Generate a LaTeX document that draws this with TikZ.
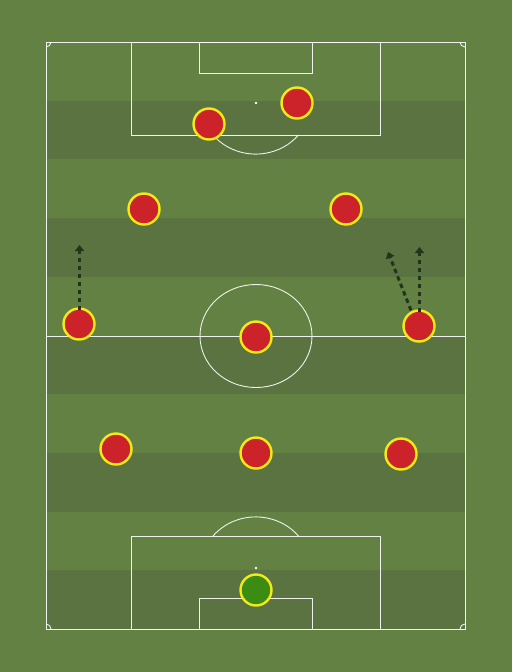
\documentclass[tikz,border=0pt]{standalone}
\usetikzlibrary{arrows.meta}
\definecolor{grasslight}{HTML}{638142}
\definecolor{grassdark}{HTML}{5A7340}
\definecolor{plred}{HTML}{CC2229}
\definecolor{plyellow}{HTML}{F2EC14}
\definecolor{gkgreen}{HTML}{3C8C14}
\definecolor{arrowc}{HTML}{26331C}
\begin{document}
\begin{tikzpicture}[x=1pt,y=-1pt,
  pline/.style={draw=white,line width=0.9pt,opacity=0.9},
  player/.style={circle,draw=plyellow,line width=2.4pt,fill=plred,minimum size=31pt,inner sep=0pt},
  keeper/.style={player,fill=gkgreen},
  run/.style={draw=arrowc,line width=3pt,dash pattern=on 4.5pt off 3.5pt,-{Triangle[length=6pt,width=9pt]}}]
\fill[grasslight] (0,0) rectangle (512,672);
\useasboundingbox (0,0) rectangle (512,672);
% stripes
\foreach \i in {1,3,5,7,9} {
  \fill[grassdark] (46,{42+\i*58.7}) rectangle (465,{42+(\i+1)*58.7});
}
% pitch lines
\draw[pline] (46,42) rectangle (465,629);
\draw[pline] (46,336) -- (465,336);
\draw[pline] (256,336) ellipse[x radius=56,y radius=51.5];
% top
\draw[pline] (131,42) rectangle (380,135);
\draw[pline] (199,42) rectangle (312,73);
\fill[white] (256,103) circle (1.4);
\draw[pline] (213,135) arc[start angle=141,end angle=39,x radius=55,y radius=51.5];
% bottom
\draw[pline] (131,629) rectangle (380,536);
\draw[pline] (199,629) rectangle (312,598);
\fill[white] (256,568) circle (1.4);
\draw[pline] (213,536) arc[start angle=219,end angle=321,x radius=55,y radius=51.5];
% corners
\draw[pline] (51,42) arc[start angle=0,end angle=90,radius=5];
\draw[pline] (460,42) arc[start angle=180,end angle=90,radius=5];
\draw[pline] (51,629) arc[start angle=0,end angle=-90,radius=5];
\draw[pline] (460,629) arc[start angle=180,end angle=270,radius=5];
% arrow targets
\coordinate (t1) at (79.5,245);
\coordinate (t2) at (419.5,247);
\coordinate (t3) at (388,252);
% players
\node[keeper] (gk) at (256,590) {};
\node[player] (d1) at (116,449) {};
\node[player] (d2) at (256,453) {};
\node[player] (d3) at (401,454) {};
\node[player] (m1) at (79,324) {};
\node[player] (m2) at (256,337) {};
\node[player] (m3) at (419,326) {};
\node[player] (a1) at (144,209) {};
\node[player] (a2) at (346,209) {};
\node[player] (f1) at (209,124) {};
\node[player] (f2) at (297,103) {};
% runs
\draw[run] ([xshift=0.5pt,yshift=-3pt]m1.north) -- (t1);
\draw[run] ([xshift=0.5pt,yshift=-3pt]m3.north) -- (t2);
\draw[run] ([xshift=-8pt,yshift=-1pt]m3.north) -- (t3);
\end{tikzpicture}
\end{document}
